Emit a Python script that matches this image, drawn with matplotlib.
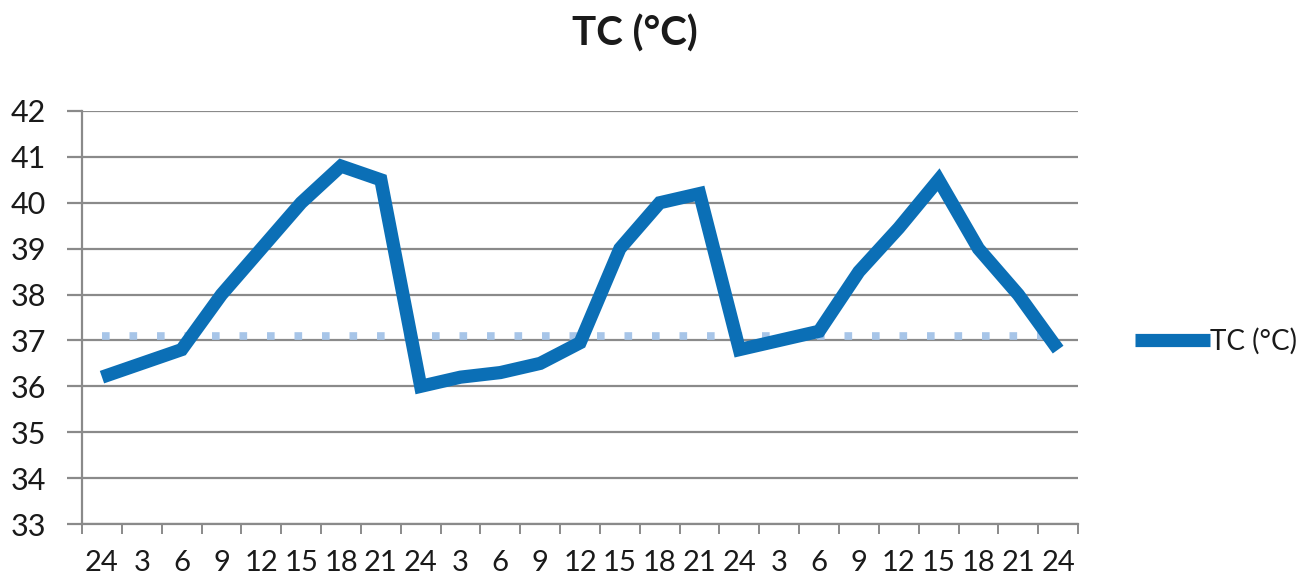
import numpy as np
import matplotlib
matplotlib.use("Agg")
import matplotlib.pyplot as plt

# data
hours = ['24', '3', '6', '9', '12', '15', '18', '21',
         '24', '3', '6', '9', '12', '15', '18', '21',
         '24', '3', '6', '9', '12', '15', '18', '21', '24']
tc = [36.2, 36.5, 36.8, 38.0, 39.0, 40.0, 40.8, 40.5,
      36.0, 36.2, 36.3, 36.5, 36.95, 39.0, 40.0, 40.2,
      36.8, 37.0, 37.2, 38.5, 39.45, 40.5, 39.0, 38.0, 36.8]
threshold = 37.1
yticks = list(range(33, 43))

plt.rcParams['font.family'] = ['Lato', 'DejaVu Sans']

fig = plt.figure(figsize=(13.15, 5.78), dpi=100)
ax = fig.add_axes([0.0624, 0.0934, 0.7574, 0.7146])

x = np.arange(len(tc))
grid_c = '#8a8a8a'
txt_c = '#1a1a1a'

# reference line at 37
ax.plot(x, [threshold] * len(x), color='#a7c5e8', lw=5.5, ls=(0, (1, 2.6)),
        solid_capstyle='butt', zorder=2)
# main series
line, = ax.plot(x, tc, color='#0b6fb6', lw=9.5, solid_joinstyle='miter',
                solid_capstyle='butt', zorder=3, label='TC (°C)')

ax.set_xlim(-0.5, len(tc) - 0.5)
ax.set_ylim(33, 42)
ax.set_yticks(yticks)
ax.set_yticklabels([str(v) for v in yticks])
ax.yaxis.grid(True, color=grid_c, lw=1.6)
ax.set_axisbelow(True)

# category ticks between points, labels under the points
ax.set_xticks(np.arange(-0.5, len(tc), 1))
ax.set_xticklabels([])
ax.set_xticks(x, minor=True)
ax.set_xticklabels(hours, minor=True)
ax.tick_params(axis='x', which='major', length=7, width=1.4, color=grid_c, direction='out')
ax.tick_params(axis='x', which='minor', length=0, pad=19, labelsize=21, labelcolor=txt_c)
ax.tick_params(axis='y', length=11, width=1.6, color=grid_c, pad=15, labelsize=22,
               labelcolor=txt_c)

for s in ['top', 'right']:
    ax.spines[s].set_visible(False)
for s in ['left', 'bottom']:
    ax.spines[s].set_color(grid_c)
    ax.spines[s].set_linewidth(1.6)

fig.suptitle('TC (°C)', x=0.483, y=0.975, fontsize=29, fontweight='bold', color=txt_c)

fig.legend(handles=[line], loc='center left', bbox_to_anchor=(0.863, 0.41),
           frameon=False, fontsize=20, handlelength=2.7, handletextpad=0.0,
           borderaxespad=0, borderpad=0, labelcolor=txt_c)

fig.savefig('out.png', dpi=100)
